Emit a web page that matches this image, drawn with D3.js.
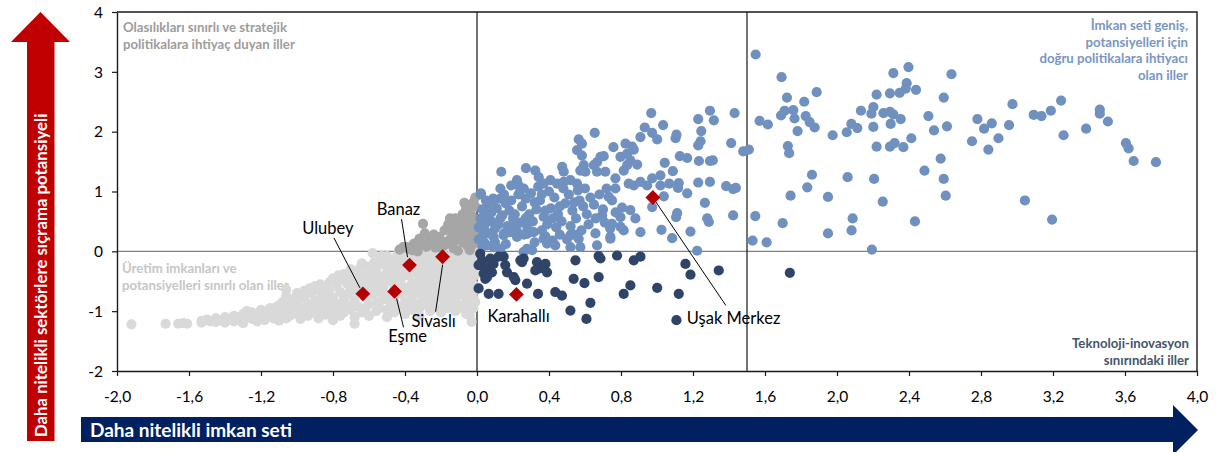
<!DOCTYPE html>
<html><head><meta charset="utf-8">
<script src="https://cdn.jsdelivr.net/npm/d3@7"></script>
<style>
html,body{margin:0;padding:0;background:#fff;}
svg{display:block;font-family:Lato,"Open Sans",sans-serif;}
</style></head>
<body><svg id="chart" width="1223" height="452"></svg>
<script>
// ---------- DATA ----------
const xTicks = [-2.0,-1.6,-1.2,-0.8,-0.4,0.0,0.4,0.8,1.2,1.6,2.0,2.4,2.8,3.2,3.6,4.0];
const yTicks = [-2,-1,0,1,2,3,4];
const xThresholds = [0, 1.5];

// "Üretim imkanları ve potansiyelleri sınırlı olan iller" (light grey)
const lightGrey = [
[-1.92,-1.22],[-1.73,-1.21],[-1.66,-1.21],[-1.63,-1.20],[-1.61,-1.21],
[-1.53,-1.16],[-1.53,-1.19],[-1.50,-1.14],[-1.48,-1.17],[-1.45,-1.12],[-1.45,-1.18],
[-1.42,-1.15],[-1.40,-1.10],[-1.40,-1.19],[-1.37,-1.13],[-1.35,-1.08],[-1.35,-1.17],[-1.32,-1.12],
[-1.30,-1.05],[-1.30,-1.15],[-1.30,-1.20],[-1.27,-1.09],[-1.25,-1.02],[-1.25,-1.13],[-1.22,-1.07],[-1.22,-1.17],[-1.20,-0.98],[-1.20,-1.11],
[-1.18,-1.04],[-1.18,-1.15],[-1.15,-0.95],[-1.15,-1.08],[-1.13,-1.12],[-1.13,-1.00],[-1.10,-0.90],[-1.10,-1.05],[-1.10,-1.16],[-1.08,-0.97],[-1.08,-0.85],
[-1.06,-0.64],[-1.06,-0.75],[-1.06,-1.02],[-1.06,-1.12],[-1.04,-0.92],[-1.04,-1.08],[-1.02,-0.80],[-1.02,-0.98],[-1.00,-0.70],[-1.00,-0.88],[-1.00,-1.05],[-0.98,-0.95],[-0.98,-1.13],
[-0.96,-0.78],[-0.96,-0.66],[-0.96,-1.00],[-0.94,-0.88],[-0.94,-1.08],[-0.92,-0.70],[-0.92,-0.95],[-0.90,-0.58],[-0.90,-0.82],[-0.90,-1.03],[-0.88,-0.65],[-0.88,-0.90],[-0.88,-1.12],
[-0.86,-0.75],[-0.86,-0.98],[-0.84,-0.60],[-0.84,-0.85],[-0.84,-1.06],[-0.82,-0.52],[-0.82,-0.70],[-0.82,-0.93],[-0.80,-0.45],[-0.80,-0.78],[-0.80,-1.00],[-0.80,-1.15],[-0.78,-0.58],[-0.78,-0.88],
[-0.76,-0.48],[-0.76,-0.68],[-0.76,-0.95],[-0.76,-1.08],[-0.74,-0.38],[-0.74,-0.80],[-0.74,-1.02],[-0.72,-0.55],[-0.72,-0.72],[-0.72,-0.90],[-0.70,-0.30],[-0.70,-0.62],[-0.70,-0.98],[-0.68,-1.21],[-0.68,-0.45],[-0.68,-0.82],[-0.68,-1.10],
[-0.66,-0.35],[-0.66,-0.58],[-0.66,-0.92],[-0.64,-0.20],[-0.64,-0.50],[-0.64,-1.02],[-0.62,-0.40],[-0.62,-0.78],[-0.62,-0.95],[-0.60,-0.25],[-0.60,-0.62],[-0.60,-0.88],[-0.60,-1.08],[-0.58,-0.03],[-0.58,-0.48],[-0.58,-0.72],
[-0.56,-0.30],[-0.56,-0.55],[-0.56,-0.85],[-0.56,-1.00],[-0.54,-0.15],[-0.54,-0.42],[-0.54,-0.68],[-0.54,-0.95],[-0.52,-0.22],[-0.52,-0.60],[-0.52,-0.80],[-0.50,-0.08],[-0.50,-0.35],[-0.50,-0.75],[-0.50,-0.98],[-0.50,-1.10],[-0.48,-0.28],[-0.48,-0.50],[-0.48,-0.88],
[-0.46,-0.12],[-0.46,-0.40],[-0.46,-0.62],[-0.46,-0.82],[-0.46,-1.02],[-0.44,-0.05],[-0.44,-0.30],[-0.44,-0.55],[-0.44,-0.92],[-0.42,-0.18],[-0.42,-0.45],[-0.42,-0.72],[-0.42,-0.98],[-0.40,-0.10],[-0.40,-0.35],[-0.40,-0.60],[-0.40,-0.85],[-0.40,-1.05],[-0.38,-0.40],[-0.38,-0.68],[-0.38,-0.92],
[-0.36,-0.15],[-0.36,-0.28],[-0.36,-0.52],[-0.36,-0.78],[-0.36,-0.98],[-0.34,-0.05],[-0.34,-0.35],[-0.34,-0.62],[-0.34,-0.88],[-0.32,-0.20],[-0.32,-0.45],[-0.32,-0.70],[-0.32,-0.95],[-0.32,-1.08],[-0.30,-0.08],[-0.30,-0.30],[-0.30,-0.55],[-0.30,-0.80],[-0.28,-0.15],[-0.28,-0.40],[-0.28,-0.65],[-0.28,-0.90],
[-0.26,-0.05],[-0.26,-0.25],[-0.26,-0.50],[-0.26,-0.75],[-0.26,-1.00],[-0.24,-0.12],[-0.24,-0.35],[-0.24,-0.58],[-0.24,-0.82],[-0.22,-0.20],[-0.22,-0.45],[-0.22,-0.70],[-0.22,-0.95],[-0.20,-0.30],[-0.20,-0.52],[-0.20,-0.78],[-0.20,-1.02],[-0.18,-0.08],[-0.18,-0.22],[-0.18,-0.40],[-0.18,-0.62],[-0.18,-0.88],
[-0.16,-0.15],[-0.16,-0.35],[-0.16,-0.55],[-0.16,-0.72],[-0.16,-0.95],[-0.14,-0.05],[-0.14,-0.25],[-0.14,-0.48],[-0.14,-0.68],[-0.14,-0.85],[-0.12,-0.12],[-0.12,-0.32],[-0.12,-0.58],[-0.12,-0.78],[-0.12,-1.00],[-0.10,-0.20],[-0.10,-0.42],[-0.10,-0.65],[-0.10,-0.90],[-0.08,-0.05],[-0.08,-0.28],[-0.08,-0.50],[-0.08,-0.72],[-0.08,-0.95],
[-0.06,-0.15],[-0.06,-0.35],[-0.06,-0.60],[-0.06,-0.82],[-0.06,-1.05],[-0.04,-0.02],[-0.04,-0.22],[-0.04,-0.45],[-0.04,-0.70],[-0.04,-1.07],[-0.02,-0.10],[-0.02,-0.30],[-0.02,-0.55],[-0.02,-0.78],[-0.02,-0.95],[-0.03,-1.18],[-0.01,-0.40],[-0.01,-0.65],[0.00,0.05],[-0.01,-0.20],
[-1.28,-1.00],[-1.16,-1.02],[-1.12,-0.94],[-1.05,-0.86],[-0.99,-0.78],[-0.93,-0.62],[-0.87,-0.55],[-0.83,-0.66],[-0.79,-0.52],[-0.77,-0.40],[-0.73,-0.46],[-0.71,-0.38],[-0.69,-0.54],[-0.67,-0.68],[-0.65,-0.28],[-0.63,-0.60],[-0.61,-0.52],[-0.59,-0.36],[-0.57,-0.18],[-0.55,-0.62],[-0.53,-0.08],[-0.51,-0.50],[-0.49,-0.18],[-0.47,-0.72],[-0.45,-0.22],[-0.43,-0.62],[-0.41,-0.26],[-0.39,-0.02],[-0.37,-0.85],[-0.35,-0.22],[-0.33,-0.55],[-0.31,-0.14],[-0.29,-0.72],[-0.27,-0.32],[-0.25,-0.88],[-0.23,-0.05],[-0.21,-0.60],[-0.19,-0.30],[-0.17,-0.82],[-0.15,-0.42],[-0.13,-0.92],[-0.11,-0.08],[-0.09,-0.58],[-0.07,-0.40],[-0.05,-0.88],[-0.03,-0.62],[-0.01,-0.85]
];

// mid grey points
const midGrey = [
[-0.43,0.03],[-0.41,0.07],[-0.39,0.07],[-0.38,0.04],[-0.35,0.13],[-0.32,0.21],[-0.29,0.30],[-0.30,0.46],[-0.28,0.08],[-0.25,0.12],[-0.22,0.18],[-0.20,0.07],[-0.195,0.13],[-0.17,0.16],
[-0.15,0.55],[-0.14,0.24],[-0.13,0.15],[-0.12,0.35],[-0.106,0.01],[-0.10,0.25],[-0.09,0.41],[-0.09,0.46],[-0.08,0.62],[-0.07,0.81],[-0.06,0.30],[-0.05,0.66],[-0.056,0.43],[-0.05,0.18],
[-0.04,0.49],[-0.03,0.10],[-0.028,0.41],[-0.02,0.52],[-0.02,0.30],[-0.01,0.75],[-0.01,0.90],[0.00,0.35],[0.00,0.21],[-0.019,0.13],[-0.056,0.10],[-0.12,0.55],[-0.18,0.35],[-0.24,0.28],
[-0.16,0.45],[-0.08,0.15],[-0.04,0.02],[-0.26,0.22],[-0.36,0.02],[-0.33,0.00],[-0.11,0.48],[-0.03,0.60],[-0.06,0.72],[-0.02,0.82],
[-0.31,0.10],[-0.27,0.16],[-0.23,0.06],[-0.21,0.24],[-0.18,0.10],[-0.15,0.20],[-0.14,0.38],[-0.11,0.30],[-0.07,0.52],[-0.13,0.05]
];

// "İmkan seti geniş, ..." medium blue points
const blue = [
[1.548,3.29],[1.692,2.91],[1.722,2.57],[1.887,2.66],[1.818,2.50],[1.570,2.18],[1.616,2.12],[1.689,2.27],[1.709,2.35],[1.757,2.36],[1.764,2.22],[1.826,2.26],[1.848,2.16],[1.876,2.07],[1.781,2.01],[1.976,1.94],[1.727,1.76],[1.734,1.64],[1.479,1.67],[1.510,1.70],
[2.054,1.99],[2.080,2.13],[2.113,2.06],[2.133,2.35],[2.202,2.41],[2.191,2.30],[2.220,2.62],[2.294,2.64],[2.313,2.98],[2.397,3.08],[2.387,2.81],[2.348,2.65],[2.382,2.72],[2.439,2.70],[2.258,2.31],[2.294,2.33],[2.313,2.29],[2.354,2.21],[2.298,2.13],[2.202,2.08],
[2.220,1.75],[2.294,1.75],[2.320,1.81],[2.369,1.74],[2.413,1.89],[2.508,2.26],[2.539,2.02],[2.593,2.57],[2.611,2.09],[2.636,2.96],[2.576,1.55],[2.486,1.35],[2.593,1.21],[2.604,0.93],[2.433,0.50],[2.206,1.21],[2.254,0.83],[2.194,0.03],
[2.059,1.24],[2.087,0.55],[2.081,0.35],[1.950,0.91],[1.950,0.30],[1.861,1.28],[1.835,1.07],[1.742,0.93],[1.546,0.59],[1.698,0.47],[1.531,0.18],[1.609,0.15],
[2.750,1.84],[2.780,2.21],[2.817,2.05],[2.860,2.14],[2.841,1.70],[2.897,1.89],[2.956,2.11],[2.975,2.46],[3.044,0.85],[3.093,2.28],[3.136,2.26],[3.188,2.35],[3.245,2.52],[3.259,1.94],[3.195,0.53],[3.384,2.05],[3.460,2.37],[3.460,2.30],[3.505,2.17],[3.605,1.81],[3.620,1.72],[3.648,1.51],[3.772,1.49],
[0.968,2.31],[1.034,2.11],[0.932,2.07],[0.908,1.91],[0.973,1.98],[1.001,1.87],[1.108,1.95],[1.103,1.89],[1.229,2.21],[1.294,2.35],[1.316,2.19],[1.431,2.31],[1.246,2.01],[1.242,1.84],[1.229,1.77],[1.412,1.81],
[0.654,1.98],[0.565,1.87],[0.583,1.80],[0.556,1.69],[0.583,1.60],[0.758,1.74],[0.825,1.80],[0.862,1.75],[0.871,1.70],[0.797,1.58],[0.834,1.63],[0.852,1.52],[0.890,1.45],[0.686,1.58],[0.704,1.59],[0.667,1.49],[0.649,1.44],
[0.593,1.44],[0.602,1.33],[0.574,1.35],[0.473,1.41],[0.482,1.33],[0.324,1.35],[0.343,1.24],[0.272,1.39],[0.135,1.33],[0.222,1.19],[0.232,1.10],[0.241,1.02],[0.370,1.13],[0.408,1.19],[0.445,1.13],[0.482,1.16],[0.519,1.19],[0.556,1.13],
[0.667,1.33],[0.713,1.33],[0.769,1.22],[0.769,1.05],[0.815,1.35],[0.834,1.44],[0.843,1.13],[0.871,1.10],[0.908,1.16],[0.945,1.10],[0.973,1.22],[1.019,1.27],[1.019,1.10],[1.043,1.48],[1.088,1.34],[1.068,1.13],[1.121,1.14],[1.117,1.06],
[1.127,1.59],[1.168,1.56],[1.233,1.51],[1.294,1.51],[1.310,1.52],[1.229,1.15],[1.294,1.16],[1.384,1.09],[1.423,1.04],[1.438,1.06],[1.168,0.97],[1.266,0.81],[1.038,0.92],[0.732,0.91],
[0.806,0.73],[0.852,0.69],[0.797,0.57],[0.880,0.55],[0.750,0.46],[0.797,0.41],[0.695,0.60],[1.112,0.64],[1.106,0.57],[1.279,0.55],[1.288,0.49],[1.423,0.60],[1.186,0.33],[1.025,0.36],[1.084,0.22],[0.908,0.32],[0.658,0.30],[0.741,0.24],[0.973,0.74],
[0.022,0.97],[0.130,0.88],[0.093,0.85],[1.223,0.01],[0.815,0.35],[0.741,0.21],[0.667,0.10],[0.574,0.07],[0.565,0.21],[0.519,0.27],[0.519,0.07],[0.435,0.10],[0.389,0.13],[0.370,0.21],[0.315,0.32],[0.278,0.29],[0.222,0.24],[0.185,0.32],[0.148,0.27],[0.092,0.24],[0.037,0.29],
[0.259,-0.01],[0.306,0.02],[0.278,0.04],[0.130,0.04],[0.092,0.07],[0.055,0.10],
[0.02,0.95],[0.05,0.85],[0.03,0.70],[0.06,0.62],[0.02,0.55],[0.08,0.50],[0.04,0.42],[0.10,0.38],[0.07,0.30],[0.12,0.45],[0.14,0.60],[0.11,0.72],[0.16,0.80],[0.09,0.88],[0.18,0.68],[0.20,0.55],[0.17,0.42],[0.22,0.35],[0.24,0.48],[0.21,0.62],
[0.25,0.75],[0.27,0.88],[0.23,0.95],[0.29,0.62],[0.31,0.50],[0.28,0.40],[0.33,0.70],[0.35,0.85],[0.30,0.97],[0.37,0.58],[0.39,0.45],[0.36,0.35],[0.41,0.72],[0.43,0.90],[0.40,1.00],[0.45,0.62],[0.47,0.50],[0.44,0.40],[0.49,0.80],[0.51,0.95],
[0.48,1.05],[0.53,0.68],[0.55,0.55],[0.52,0.42],[0.57,0.85],[0.59,0.75],[0.56,1.02],[0.61,0.62],[0.63,0.90],[0.60,1.05],[0.65,0.78],[0.68,0.95],[0.70,0.70],[0.72,1.05],[0.75,0.85],[0.13,1.05],[0.19,1.10],[0.26,1.05],[0.34,1.08],[0.15,0.30],
[0.26,0.28],[0.38,0.25],[0.46,0.28],[0.06,0.78],[0.01,0.40],[0.01,0.20],[0.04,0.15],[0.10,0.15],[0.16,0.12],[0.32,0.15],[0.42,0.18],[0.58,0.35],[0.62,0.45],[0.54,0.28],[0.50,0.20],[0.66,0.55],[0.71,0.48],[0.77,0.65],[0.74,0.38],
[0.03,0.08],[0.08,0.65],[0.13,0.55],[0.19,0.85],[0.21,0.45],[0.27,0.55],[0.32,0.82],[0.38,0.68],[0.42,0.55],[0.46,0.75],[0.54,0.82],[0.36,0.95],[0.15,0.95],[0.05,0.50]
];

// "Teknoloji-inovasyon sınırındaki iller" navy points
const navy = [
[0.018,-0.04],[0.028,-0.15],[0.074,-0.12],[0.120,-0.09],[0.148,-0.09],[0.009,-0.23],[0.046,-0.26],[0.092,-0.21],[0.083,-0.35],[0.037,-0.37],[0.046,-0.46],[0.056,-0.43],
[0.157,-0.23],[0.167,-0.35],[0.204,-0.43],[0.213,-0.48],[0.250,-0.18],[0.241,-0.15],[0.259,-0.12],[0.333,-0.18],[0.343,-0.29],[0.380,-0.21],[0.389,-0.35],[0.324,-0.32],[0.278,-0.54],
[0.009,-0.62],[0.065,-0.71],[0.120,-0.71],[0.339,-0.71],[0.435,-0.68],[0.472,-0.74],[0.547,-0.15],[0.537,-0.46],[0.597,-0.53],[0.676,-0.43],[0.676,-0.08],[0.686,-0.12],[0.778,-0.07],[0.871,-0.15],[0.908,-0.09],
[0.630,-0.86],[0.519,-0.99],[0.608,-1.13],[0.815,-0.71],[0.852,-0.57],[1.001,-0.61],[1.121,-0.71],[1.158,-0.21],[1.186,-0.39],[1.343,-0.32],[1.108,-1.15],[1.738,-0.36]
];

// highlighted provinces
const highlightNames = ["Ulubey","Eşme","Banaz","Sivaslı","Karahallı","Uşak Merkez"];
const highlightX = [-0.634,-0.458,-0.375,-0.191,0.219,0.977];
const highlightY = [-0.71,-0.67,-0.23,-0.09,-0.72,0.90];

const quadrantTexts = {
  topLeft: ["Olasılıkları sınırlı ve stratejik","politikalara ihtiyaç duyan iller"],
  topRight: ["İmkan seti geniş,","potansiyelleri için","doğru politikalara ihtiyacı","olan iller"],
  bottomRight: ["Teknoloji-inovasyon","sınırındaki iller"],
  left: ["Üretim imkanları ve","potansiyelleri sınırlı olan iller"]
};
const yAxisTitle = "Daha nitelikli sektörlere sıçrama potansiyeli";
const xAxisTitle = "Daha nitelikli imkan seti";

// ---------- LAYOUT ----------
const svg = d3.select("#chart");
const X0 = 117, X1 = 1197, Y0 = 12, Y1 = 371;
const x = d3.scaleLinear().domain([-2,4]).range([X0,X1]);
const y = d3.scaleLinear().domain([-2,4]).range([Y1,Y0]);
const R = 5.1;

// label layout (pixel offsets relative to diamond)
const labelLayout = {
  "Ulubey":      {dx:-35, dy:-60, anchor:"middle", line:[[-29,-56],[-3,-6]]},
  "Banaz":       {dx:-11, dy:-50, anchor:"middle", line:[[-8,-46],[-2,-8]]},
  "Sivaslı":     {dx:-9,  dy:70,  anchor:"middle", line:[[0,8],[-7,55]]},
  "Eşme":        {dx:13,  dy:51,  anchor:"middle", line:[[2,7],[9,36]]},
  "Karahallı":   {dx:-29, dy:28,  anchor:"start",  line:null},
  "Uşak Merkez": {dx:34,  dy:127, anchor:"start",  line:[[0,0],[73,108]]}
};

// reference lines (under points)
svg.append("line").attr("x1",X0).attr("x2",X1).attr("y1",y(0)).attr("y2",y(0))
  .attr("stroke","#808080").attr("stroke-width",1.3);
xThresholds.forEach(v=>{
  svg.append("line").attr("x1",x(v)).attr("x2",x(v)).attr("y1",Y0).attr("y2",Y1)
    .attr("stroke","#000").attr("stroke-width",1.1);
});

// quadrant texts
function block(lines, xPos, yStart, lh, anchor, color){
  const t = svg.append("text").attr("font-size",13.2).attr("font-weight","bold")
    .attr("fill",color).attr("text-anchor",anchor);
  lines.forEach((l,i)=>t.append("tspan").attr("x",xPos).attr("y",yStart+i*lh).text(l));
}
block(quadrantTexts.topLeft, 123, 32, 16.5, "start", "#9c9c9c");
block(quadrantTexts.topRight, 1188, 30, 16.6, "end", "#7896c4");
block(quadrantTexts.bottomRight, 1189, 348, 17, "end", "#44546a");
block(quadrantTexts.left, 122, 273, 17, "start", "#c6c6c6");

// points
function dots(data, color){
  svg.append("g").selectAll("circle").data(data).join("circle")
    .attr("cx",d=>x(d[0])).attr("cy",d=>y(d[1])).attr("r",R).attr("fill",color);
}
dots(lightGrey, "#d9d9d9");
dots(midGrey, "#a6a6a6");
dots(blue, "#7091bf");
dots(navy, "#2f4468");

// axes
const xAxis = svg.append("g").attr("transform",`translate(0,${Y1})`)
  .call(d3.axisBottom(x).tickValues(xTicks).tickSize(5).tickSizeOuter(0)
    .tickFormat(d=>d3.format(".1f")(d).replace(".",",").replace("−","-")));
const yAxis = svg.append("g").attr("transform",`translate(${X0},0)`)
  .call(d3.axisLeft(y).tickValues(yTicks).tickSize(5).tickSizeOuter(0)
    .tickFormat(d=>String(d)));
[xAxis,yAxis].forEach(g=>{
  g.select(".domain").attr("stroke","#1a1a1a").attr("stroke-width",1.4);
  g.selectAll(".tick line").attr("stroke","#1a1a1a").attr("stroke-width",1.2);
  g.selectAll("text").attr("font-family","Lato, sans-serif").attr("font-size",15.5).attr("fill","#000");
});
xAxis.selectAll("text").attr("dy","1.5em");
yAxis.selectAll("text").attr("x",-14).attr("dy","0.34em");
// top & right border
svg.append("path").attr("d",`M${X0},${Y0}H${X1}V${Y1}`).attr("fill","none")
  .attr("stroke","#1a1a1a").attr("stroke-width",1.4);

// highlights
const hl = highlightNames.map((n,i)=>({name:n, px:x(highlightX[i]), py:y(highlightY[i])}));
hl.forEach(h=>{
  const L = labelLayout[h.name];
  if(L.line){
    svg.append("line").attr("x1",h.px+L.line[0][0]).attr("y1",h.py+L.line[0][1])
      .attr("x2",h.px+L.line[1][0]).attr("y2",h.py+L.line[1][1])
      .attr("stroke","#000").attr("stroke-width",1);
  }
});
svg.append("g").selectAll("path").data(hl).join("path")
  .attr("d",d3.symbol().type(d3.symbolSquare).size(110))
  .attr("transform",d=>`translate(${d.px},${d.py}) rotate(45)`)
  .attr("fill","#b50000");
hl.forEach(h=>{
  const L = labelLayout[h.name];
  svg.append("text").attr("x",h.px+L.dx).attr("y",h.py+L.dy)
    .attr("text-anchor",L.anchor).attr("font-size",16.5).attr("fill","#000").text(h.name);
});

// red vertical arrow
const ra = d3.path();
ra.moveTo(27,441); ra.lineTo(27,42); ra.lineTo(11,42); ra.lineTo(40.5,12);
ra.lineTo(70,42); ra.lineTo(54.5,42); ra.lineTo(54.5,441); ra.closePath();
svg.append("path").attr("d",ra.toString()).attr("fill","#c00000");
svg.append("text").attr("transform","translate(47,437) rotate(-90)")
  .attr("font-size",16.8).attr("font-weight","bold").attr("fill","#fff").text(yAxisTitle);

// blue horizontal arrow
const ba = d3.path();
ba.moveTo(81,417); ba.lineTo(1173,417); ba.lineTo(1173,405); ba.lineTo(1198,430);
ba.lineTo(1173,455); ba.lineTo(1173,442); ba.lineTo(81,442); ba.closePath();
svg.append("path").attr("d",ba.toString()).attr("fill","#002060");
svg.append("text").attr("x",90).attr("y",436.5).attr("font-size",19).attr("font-weight","bold")
  .attr("fill","#fff").text(xAxisTitle);
</script></body></html>
